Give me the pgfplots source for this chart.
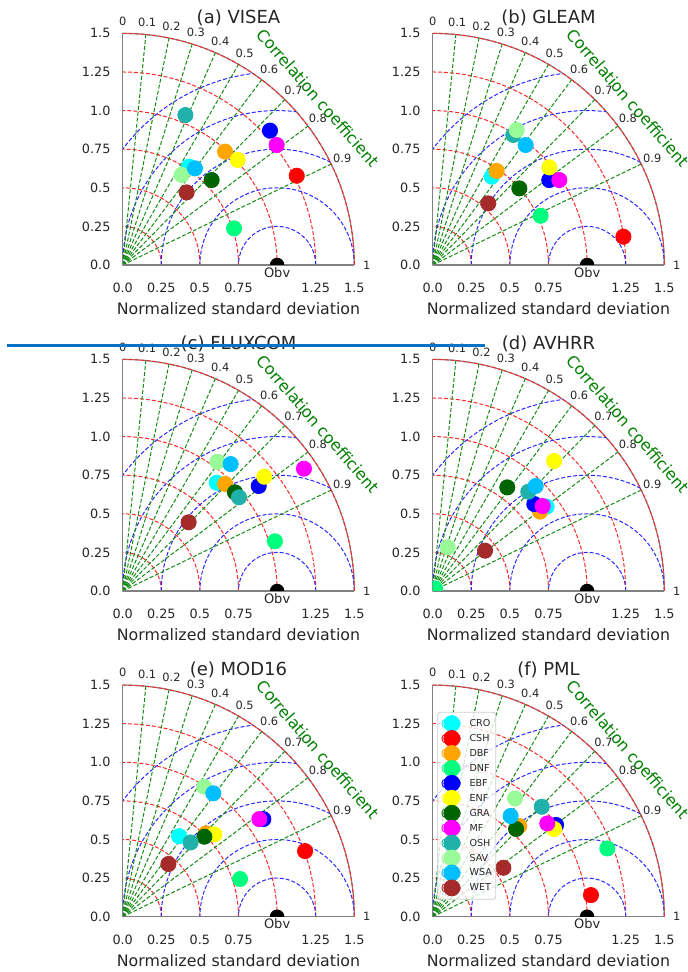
\documentclass[border=0pt]{standalone}
\usepackage{fontspec}
\setmainfont{DejaVu Sans}
\usepackage{pgfplots}
\pgfplotsset{compat=1.18}

\newcommand\Un{77.2pt}
\newcommand\fs[1]{\fontsize{#1}{#1}\selectfont}

\definecolor{cro}{HTML}{00FFFF}
\definecolor{csh}{HTML}{FF0000}
\definecolor{dbf}{HTML}{FFA500}
\definecolor{dnf}{HTML}{00FF7F}
\definecolor{ebf}{HTML}{0000FF}
\definecolor{enf}{HTML}{FFFF00}
\definecolor{gra}{HTML}{006400}
\definecolor{mfc}{HTML}{FF00FF}
\definecolor{osh}{HTML}{20B2AA}
\definecolor{sav}{HTML}{98FB98}
\definecolor{wsa}{HTML}{00BFFF}
\definecolor{wet}{HTML}{A52A2A}
\definecolor{corrgreen}{HTML}{008000}
\definecolor{txt}{HTML}{262626}
\definecolor{artblue}{HTML}{0A72C6}
\definecolor{gridred}{HTML}{FF2828}
\definecolor{gridblue}{HTML}{2828FF}
\definecolor{gridgreen}{HTML}{148C14}
\definecolor{legframe}{HTML}{CCCCCC}

\tikzset{
  gred/.style={draw=gridred, line width=0.5pt, dash pattern=on 2pt off 1pt},
  gblue/.style={draw=gridblue, line width=0.5pt, dash pattern=on 2pt off 1pt},
  ggreen/.style={draw=gridgreen, line width=0.5pt, dash pattern=on 2pt off 1pt},
  mk/.style={color=#1, mark=*, mark size=3.8pt, mark options={solid, draw=#1, fill=#1}},
}

\newcommand\taylorgrid[2]{%
\begin{scope}[shift={(#1,#2)}]
  \draw[gray, line width=0.6pt] (1.5*\Un,0) arc[start angle=0,end angle=90,radius=1.5*\Un];
  \foreach \r in {0.25,0.5,0.75,1.0,1.25,1.5}{\draw[gred] (\r*\Un,0) arc[start angle=0,end angle=90,radius=\r*\Un];}
  \begin{scope}
    \clip (0,0) -- (1.5*\Un,0) arc[start angle=0,end angle=90,radius=1.5*\Un] -- cycle;
    \foreach \r in {0.25,0.5,0.75,1.0,1.25}{\draw[gblue] ({(1+\r)*\Un},0) arc[start angle=0,end angle=180,radius=\r*\Un];}
  \end{scope}
  \foreach \c in {0.1,0.2,0.3,0.4,0.5,0.6,0.7,0.8,0.9}{\draw[ggreen] (0,0) -- ({acos(\c)}:1.5*\Un);}
  \foreach \c in {0,0.1,0.2,0.3,0.4,0.5,0.6,0.7,0.8,0.9,1}{\node[font=\fs{5.7}, text=txt, inner sep=0pt] at ({acos(\c)}:1.58*\Un) {\c};}
  \node[font=\fs{6.5}, text=txt, inner sep=0pt] at (\Un,-3.6pt) {Obv};
  \node[font=\fs{8}, text=corrgreen, rotate=-49, inner sep=0pt] at (40.5:1.665*\Un) {Correlation coefficient};
\end{scope}}

\pgfplotsset{taylor/.style={
  anchor=south west, x=\Un, y=\Un, xmin=0, xmax=1.5, ymin=0, ymax=1.5,
  axis lines*=left, axis line style={gray, line width=0.6pt},
  major tick length=0pt, minor tick num=0,
  xtick={0,0.25,0.5,0.75,1.25,1.5}, xticklabels={0.0,0.25,0.5,0.75,1.25,1.5},
  ytick={0,0.25,0.5,0.75,1,1.25,1.5}, yticklabels={0.0,0.25,0.5,0.75,1.0,1.25,1.5},
  tick label style={font=\fs{6.4}, text=txt},
  xticklabel style={yshift=-5.6pt},
  yticklabel style={xshift=-2.6pt},
  xlabel={Normalized standard deviation},
  xlabel style={at={(axis description cs:0.5,0)}, anchor=center, yshift=-22pt, font=\fs{7.9}, text=txt},
  title style={at={(axis description cs:0.5,1)}, anchor=center, yshift=1.8pt, font=\fs{9}, text=txt},
  clip marker paths=true,
  /pgf/number format/assume math mode=true,
}}

\begin{document}
\begin{tikzpicture}
\path[use as bounding box] (0,0) rectangle (344pt,486pt);

% ---------------- (a) VISEA
\taylorgrid{61.35pt}{353.5pt}
\begin{axis}[taylor, at={(61.35pt,353.5pt)}, title={(a) VISEA}]
\addplot[mk=cro] coordinates {(0.430,0.637)};
\addplot[mk=csh] coordinates {(1.127,0.578)};
\addplot[mk=dbf] coordinates {(0.663,0.734)};
\addplot[mk=dnf] coordinates {(0.721,0.237)};
\addplot[mk=ebf] coordinates {(0.954,0.870)};
\addplot[mk=enf] coordinates {(0.745,0.680)};
\addplot[mk=gra] coordinates {(0.576,0.550)};
\addplot[mk=mfc] coordinates {(0.997,0.777)};
\addplot[mk=osh] coordinates {(0.406,0.971)};
\addplot[mk=sav] coordinates {(0.382,0.583)};
\addplot[mk=wsa] coordinates {(0.468,0.626)};
\addplot[mk=wet] coordinates {(0.414,0.470)};
\addplot[mk=black, mark size=3.4pt] coordinates {(1,0)};
\end{axis}

% ---------------- (b) GLEAM
\taylorgrid{216.35pt}{353.5pt}
\begin{axis}[taylor, at={(216.35pt,353.5pt)}, title={(b) GLEAM}]
\addplot[mk=cro] coordinates {(0.382,0.572)};
\addplot[mk=csh] coordinates {(1.235,0.183)};
\addplot[mk=dbf] coordinates {(0.414,0.609)};
\addplot[mk=dnf] coordinates {(0.699,0.319)};
\addplot[mk=ebf] coordinates {(0.755,0.550)};
\addplot[mk=enf] coordinates {(0.755,0.632)};
\addplot[mk=gra] coordinates {(0.561,0.496)};
\addplot[mk=mfc] coordinates {(0.820,0.550)};
\addplot[mk=osh] coordinates {(0.522,0.842)};
\addplot[mk=sav] coordinates {(0.544,0.874)};
\addplot[mk=wsa] coordinates {(0.602,0.777)};
\addplot[mk=wet] coordinates {(0.360,0.399)};
\addplot[mk=black, mark size=3.4pt] coordinates {(1,0)};
\end{axis}

% ---------------- (c) FLUXCOM
\taylorgrid{61.35pt}{190.5pt}
\begin{axis}[taylor, at={(61.35pt,190.5pt)}, title={(c) FLUXCOM}]
\addplot[mk=cro] coordinates {(0.609,0.701)};
\addplot[mk=dbf] coordinates {(0.663,0.693)};
\addplot[mk=dnf] coordinates {(0.986,0.322)};
\addplot[mk=ebf] coordinates {(0.881,0.680)};
\addplot[mk=enf] coordinates {(0.917,0.740)};
\addplot[mk=gra] coordinates {(0.727,0.639)};
\addplot[mk=mfc] coordinates {(1.174,0.792)};
\addplot[mk=osh] coordinates {(0.753,0.607)};
\addplot[mk=sav] coordinates {(0.613,0.837)};
\addplot[mk=wsa] coordinates {(0.699,0.822)};
\addplot[mk=wet] coordinates {(0.427,0.445)};
\addplot[mk=black, mark size=3.4pt] coordinates {(1,0)};
\end{axis}

% ---------------- (d) AVHRR
\taylorgrid{216.35pt}{190.5pt}
\begin{axis}[taylor, at={(216.35pt,190.5pt)}, title={(d) AVHRR}]
\addplot[mk=cro] coordinates {(0.738,0.546)};
\addplot[mk=dbf] coordinates {(0.695,0.514)};
\addplot[mk=dnf] coordinates {(0.015,0.017)};
\addplot[mk=ebf] coordinates {(0.658,0.563)};
\addplot[mk=enf] coordinates {(0.786,0.842)};
\addplot[mk=gra] coordinates {(0.483,0.671)};
\addplot[mk=mfc] coordinates {(0.712,0.550)};
\addplot[mk=osh] coordinates {(0.619,0.643)};
\addplot[mk=sav] coordinates {(0.097,0.283)};
\addplot[mk=wsa] coordinates {(0.667,0.680)};
\addplot[mk=wet] coordinates {(0.339,0.261)};
\addplot[mk=black, mark size=3.4pt] coordinates {(1,0)};
\end{axis}

% ---------------- (e) MOD16
\taylorgrid{61.35pt}{27.65pt}
\begin{axis}[taylor, at={(61.35pt,27.65pt)}, title={(e) MOD16}]
\addplot[mk=cro] coordinates {(0.365,0.522)};
\addplot[mk=csh] coordinates {(1.181,0.425)};
\addplot[mk=dbf] coordinates {(0.540,0.540)};
\addplot[mk=dnf] coordinates {(0.760,0.244)};
\addplot[mk=ebf] coordinates {(0.911,0.632)};
\addplot[mk=enf] coordinates {(0.594,0.533)};
\addplot[mk=gra] coordinates {(0.529,0.518)};
\addplot[mk=mfc] coordinates {(0.885,0.632)};
\addplot[mk=osh] coordinates {(0.440,0.481)};
\addplot[mk=sav] coordinates {(0.527,0.842)};
\addplot[mk=wsa] coordinates {(0.587,0.799)};
\addplot[mk=wet] coordinates {(0.296,0.341)};
\addplot[mk=black, mark size=3.4pt] coordinates {(1,0)};
\end{axis}

% ---------------- (f) PML
\taylorgrid{216.35pt}{27.65pt}
\begin{axis}[taylor, at={(216.35pt,27.65pt)}, title={(f) PML},
  legend style={at={(0.0199,0.8848)}, anchor=north west,
    draw=legframe, rounded corners=1.5pt,
    fill=white, fill opacity=0.8, draw opacity=1, text opacity=1,
    font=\fs{4.8}, text=txt, inner xsep=2pt, inner ysep=3.5pt,
    row sep=3.07pt, column sep=4.5pt,
    nodes={inner sep=0pt, text height=3.5pt, text depth=0.5pt}},
  legend cell align=left,
  legend image code/.code={\path (0pt,-2pt) rectangle (9pt,2pt);
    \draw[#1, mark size=4pt, overlay, fill opacity=1, draw opacity=1] plot coordinates {(4.85pt,0pt)};}]
\addlegendimage{mk=cro}\addlegendentry{CRO}
\addplot[mk=csh] coordinates {(1.025,0.140)};\addlegendentry{CSH}
\addplot[mk=dbf] coordinates {(0.561,0.587)};\addlegendentry{DBF}
\addplot[mk=dnf] coordinates {(1.131,0.442)};\addlegendentry{DNF}
\addplot[mk=ebf] coordinates {(0.799,0.594)};\addlegendentry{EBF}
\addplot[mk=enf] coordinates {(0.786,0.568)};\addlegendentry{ENF}
\addplot[mk=gra] coordinates {(0.540,0.568)};\addlegendentry{GRA}
\addplot[mk=mfc] coordinates {(0.742,0.604)};\addlegendentry{MF}
\addplot[mk=osh] coordinates {(0.706,0.712)};\addlegendentry{OSH}
\addplot[mk=sav] coordinates {(0.533,0.766)};\addlegendentry{SAV}
\addplot[mk=wsa] coordinates {(0.505,0.652)};\addlegendentry{WSA}
\addplot[mk=wet] coordinates {(0.458,0.317)};\addlegendentry{WET}
\addplot[mk=black, mark size=3.4pt, forget plot] coordinates {(1,0)};
\end{axis}

% screenshot artefact line
\draw[artblue, line width=1.65pt] (3.65pt,313.25pt) -- (242.5pt,313.25pt);
\end{tikzpicture}
\end{document}
